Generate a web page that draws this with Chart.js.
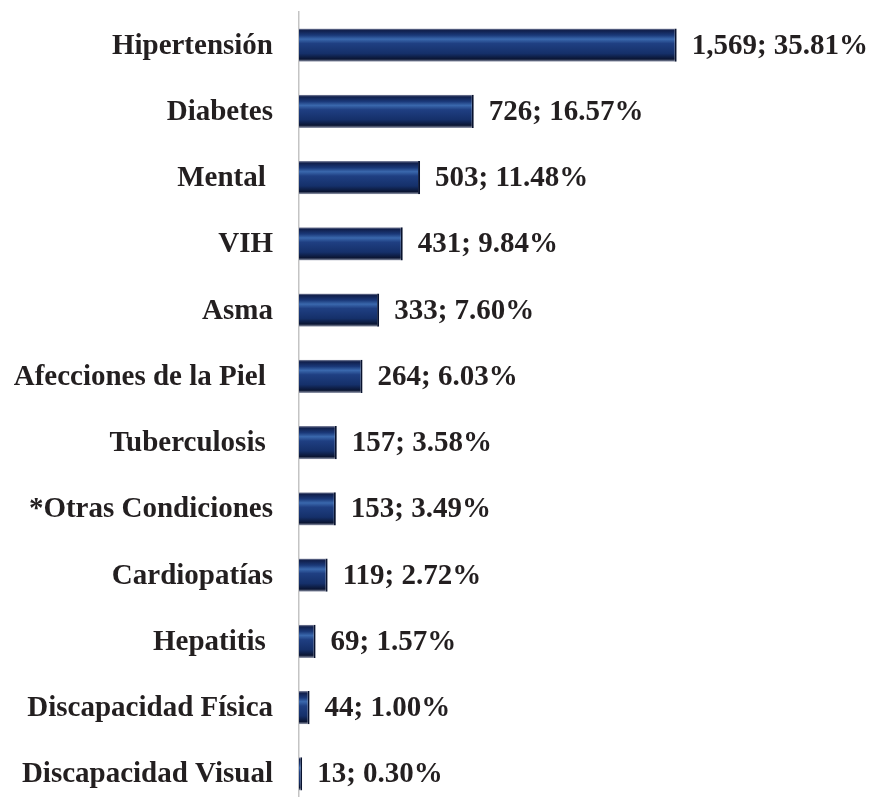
<!DOCTYPE html>
<html>
<head>
<meta charset="utf-8">
<script src="https://cdn.jsdelivr.net/npm/chart.js@4.4.0/dist/chart.umd.min.js"></script>
<style>
  html, body { margin: 0; padding: 0; background: #fff; overflow: hidden; }
  #wrap { position: relative; width: 876px; height: 810px; }
</style>
</head>
<body>
<div id="wrap"><canvas id="chart"></canvas></div>
<script>
// categorias (algunas llevan espacio final como en el original)
const labels = [
  'Hipertensión', 'Diabetes', 'Mental ', 'VIH', 'Asma', 'Afecciones de la Piel ',
  'Tuberculosis ', '*Otras Condiciones', 'Cardiopatías', 'Hepatitis ',
  'Discapacidad Física', 'Discapacidad Visual'
];
const casos = [1569, 726, 503, 431, 333, 264, 157, 153, 119, 69, 44, 13];
const porcentajes = ['35.81%', '16.57%', '11.48%', '9.84%', '7.60%', '6.03%',
  '3.58%', '3.49%', '2.72%', '1.57%', '1.00%', '0.30%'];

const FONT = "'Liberation Serif', 'Times New Roman', serif";
const TEXT_COLOR = '#231f20';

// gradiente tipo "bisel" para cada barra
function barGradient(ctx) {
  const chart = ctx.chart;
  const y = chart.scales.y;
  if (!y || ctx.dataIndex == null) return '#1a3470';
  const step = y.getPixelForValue(1) - y.getPixelForValue(0);
  const cy = y.getPixelForValue(ctx.dataIndex);
  if (!isFinite(step) || !isFinite(cy) || step <= 0) return '#1a3470';
  const h = step * 0.5;
  const top = cy - h / 2, bottom = cy + h / 2;
  const g = chart.ctx.createLinearGradient(0, top, 0, bottom);
  g.addColorStop(0, '#8a8fa6');
  g.addColorStop(0.06, '#101f4c');
  g.addColorStop(0.2, '#1a3878');
  g.addColorStop(0.32, '#3a68ad');
  g.addColorStop(0.45, '#1f3f82');
  g.addColorStop(0.75, '#15306a');
  g.addColorStop(0.92, '#0a1533');
  g.addColorStop(1, '#9aa0b2');
  return g;
}

// etiquetas "valor; porcentaje" a la derecha de cada barra
const valueLabels = {
  id: 'valueLabels',
  afterDatasetsDraw(chart) {
    const ctx = chart.ctx;
    const meta = chart.getDatasetMeta(0);
    ctx.save();
    ctx.font = 'bold 29px ' + FONT;
    ctx.fillStyle = TEXT_COLOR;
    ctx.textAlign = 'left';
    ctx.textBaseline = 'middle';
    meta.data.forEach((bar, i) => {
      const txt = casos[i].toLocaleString('en-US') + '; ' + porcentajes[i];
      ctx.fillText(txt, bar.x + 15, bar.y + 1);
    });
    ctx.restore();
  }
};

new Chart(document.getElementById('chart'), {
  type: 'bar',
  data: {
    labels: labels,
    datasets: [{
      data: casos,
      backgroundColor: barGradient,
      borderColor: '#08122e',
      borderWidth: { top: 0, bottom: 0, left: 0, right: 2 },
      borderSkipped: 'left',
      categoryPercentage: 0.5,
      barPercentage: 1.0
    }]
  },
  options: {
    indexAxis: 'y',
    responsive: true,
    maintainAspectRatio: false,
    animation: false,
    layout: { padding: { top: 12, bottom: 3, right: 0, left: 0 } },
    plugins: {
      legend: { display: false },
      tooltip: { enabled: false }
    },
    scales: {
      x: {
        display: false,
        min: 0,
        max: 2397
      },
      y: {
        afterFit(scale) {
          scale.width = 299;
          scale.paddingTop = 0;
          scale.paddingBottom = 0;
        },
        grid: { display: false, drawTicks: false },
        border: { display: true, color: '#c4c4c4', width: 1.5 },
        ticks: {
          padding: 26,
          labelOffset: 1,
          color: TEXT_COLOR,
          font: { family: FONT, size: 29, weight: 'bold' }
        }
      }
    }
  },
  plugins: [valueLabels]
});
</script>
</body>
</html>
